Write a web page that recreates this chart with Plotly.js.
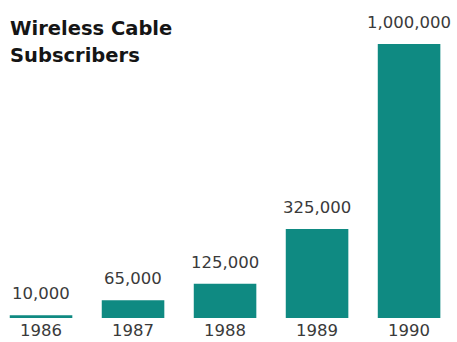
<!DOCTYPE html>
<html>
<head>
<meta charset="utf-8">
<script src="https://cdn.plot.ly/plotly-3.0.1.min.js"></script>
<style>html,body{margin:0;padding:0;background:#fff;}#chart{width:457px;height:342px;}</style>
</head>
<body>
<div id="chart"></div>
<script>
const years = ['1986', '1987', '1988', '1989', '1990'];
const subscribers = [10000, 65000, 125000, 325000, 1000000];
const valueLabels = ['10,000', '65,000', '125,000', '325,000', '1,000,000'];
const titleLines = ['Wireless Cable', 'Subscribers'];

const numFont = {family: 'DejaVu Sans, sans-serif', size: 16.5, color: '#3a3a3a'};

const trace = {
  type: 'bar',
  x: years,
  y: subscribers,
  marker: {color: '#0f8a82', line: {width: 0}},
  width: 0.68,
  hoverinfo: 'skip'
};

// annotations on a category axis use the category's serial index
const valueAnnotations = years.map((yr, i) => ({
  x: i, y: subscribers[i], xref: 'x', yref: 'y',
  text: valueLabels[i],
  xanchor: 'center', yanchor: 'bottom', yshift: 10,
  showarrow: false,
  font: numFont
}));

const titleAnnotations = titleLines.map((t, i) => ({
  text: '<b>' + t + '</b>',
  xref: 'paper', yref: 'paper',
  x: 0, y: 1, xanchor: 'left', yanchor: 'top',
  xshift: 8, yshift: -5 - 27 * i,
  showarrow: false,
  font: {family: 'DejaVu Sans, sans-serif', size: 19.5, weight: 900, color: '#151515'}
}));

const layout = {
  width: 457,
  height: 342,
  margin: {l: 0, r: 0, t: 10, b: 24},
  paper_bgcolor: '#ffffff',
  plot_bgcolor: '#ffffff',
  showlegend: false,
  xaxis: {
    type: 'category',
    range: [-0.446, 4.521],
    showgrid: false, zeroline: false, showline: false, ticks: '',
    tickfont: numFont,
    ticklabelstandoff: 0
  },
  yaxis: {
    range: [0, 1124000],
    visible: false
  },
  annotations: titleAnnotations.concat(valueAnnotations)
};

Plotly.newPlot('chart', [trace], layout, {displayModeBar: false, staticPlot: true});
</script>
</body>
</html>
